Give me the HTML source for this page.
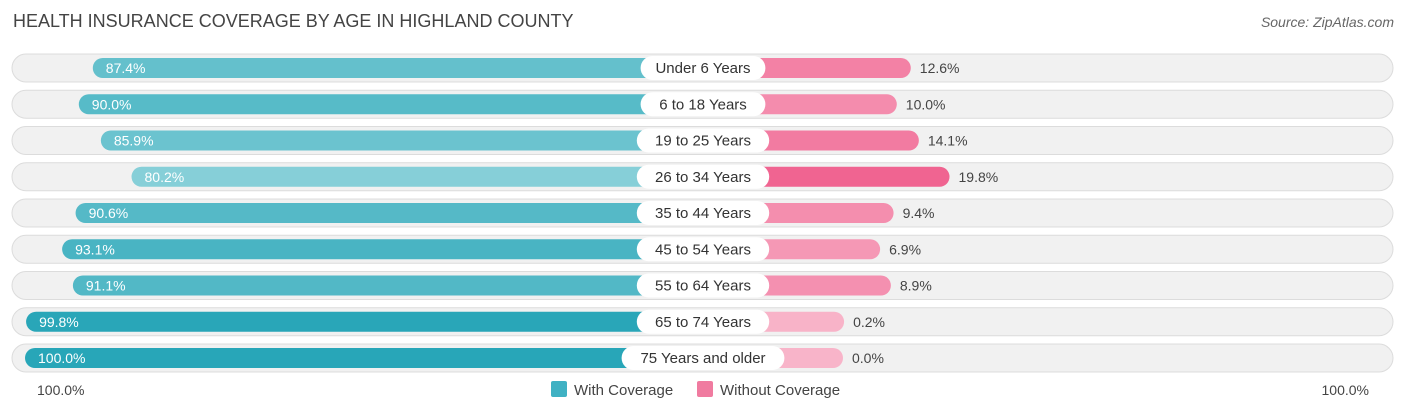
<!DOCTYPE html>
<html><head><meta charset="utf-8"><style>
body{margin:0;background:#fff;font-family:"Liberation Sans",sans-serif;}
#wrap{position:relative;width:1406px;height:414px;overflow:hidden;}
.title{position:absolute;left:13px;top:11px;font-size:18px;color:#444;}
.src{position:absolute;right:12px;top:14px;font-size:14px;color:#666;font-style:italic;}
</style></head><body>
<div id="wrap">
<div class="title">HEALTH INSURANCE COVERAGE BY AGE IN HIGHLAND COUNTY</div>
<div class="src">Source: ZipAtlas.com</div>
<svg id="svg" width="1406" height="414" style="position:absolute;left:0;top:0"></svg>
</div>
<script>
const categories=["Under 6 Years","6 to 18 Years","19 to 25 Years","26 to 34 Years","35 to 44 Years","45 to 54 Years","55 to 64 Years","65 to 74 Years","75 Years and older"];
const withCov=[87.4,90.0,85.9,80.2,90.6,93.1,91.1,99.8,100.0];
const withoutCov=[12.6,10.0,14.1,19.8,9.4,6.9,8.9,0.2,0.0];
const axisLabels=["100.0%","100.0%"];
const NS="http://www.w3.org/2000/svg";
const svg=document.getElementById('svg');
const cx=703,base=140,scale=5.38,y0=68,dy=36.25;
function len(v){return base+v*scale;}
function rowY(i){return y0+i*dy;}
function mix(a,b,t){return 'rgb('+a.map((x,k)=>Math.round(x+(b[k]-x)*t)).join(',')+')';}
function el(tag,attrs,name,inter){const e=document.createElementNS(NS,tag);for(const k in attrs)e.setAttribute(k,attrs[k]);


svg.appendChild(e);return e;}
const wMin=Math.min(...withCov),wMax=Math.max(...withCov);
const oMin=Math.min(...withoutCov),oMax=Math.max(...withoutCov);
categories.forEach((c,i)=>{
  const y=rowY(i);
  el('rect',{x:12,y:y-14,width:1381,height:28,rx:14,fill:'#f1f1f1',stroke:'#dcdcdc','stroke-width':1},'row-track',false);
  const tw=(withCov[i]-wMin)/((wMax-wMin)||1);
  const wl=len(withCov[i]);
  el('rect',{x:cx-wl,y:y-10,width:wl,height:20,rx:10,fill:mix([134,207,216],[40,166,184],tw)},'bar-with-coverage',true);
  const t=el('text',{x:cx-wl+13,y:y+5,'font-size':14,fill:'#fff'},'value-with-coverage',false);t.textContent=withCov[i].toFixed(1)+'%';
  const to=(withoutCov[i]-oMin)/((oMax-oMin)||1);
  const ol=len(withoutCov[i]);
  el('rect',{x:cx,y:y-10,width:ol,height:20,rx:10,fill:mix([248,180,201],[240,100,145],to)},'bar-without-coverage',true);
  const t2=el('text',{x:cx+ol+9,y:y+5,'font-size':14,fill:'#444'},'value-without-coverage',false);t2.textContent=withoutCov[i].toFixed(1)+'%';
  const lw=c.length*7.6+26;
  el('rect',{x:cx-lw/2,y:y-12,width:lw,height:24,rx:12,fill:'#fff'},'category-pill',false);
  const t3=el('text',{x:cx,y:y+5,'font-size':15,fill:'#333','text-anchor':'middle'},'category-label',false);t3.textContent=c;
});
let a=el('text',{x:37,y:395,'font-size':14,fill:'#444'},'axis-left-label',false);a.textContent=axisLabels[0];
a=el('text',{x:1369,y:395,'font-size':14,fill:'#444','text-anchor':'end'},'axis-right-label',false);a.textContent=axisLabels[1];
el('rect',{x:551,y:381,width:16,height:16,rx:2,fill:'#3fb1c3'},'legend-swatch-with-coverage',false);
a=el('text',{x:574,y:395,'font-size':15,fill:'#444'},'legend-label-with-coverage',false);a.textContent='With Coverage';
el('rect',{x:697,y:381,width:16,height:16,rx:2,fill:'#f07ba0'},'legend-swatch-without-coverage',false);
a=el('text',{x:720,y:395,'font-size':15,fill:'#444'},'legend-label-without-coverage',false);a.textContent='Without Coverage';
</script>
</body></html>
